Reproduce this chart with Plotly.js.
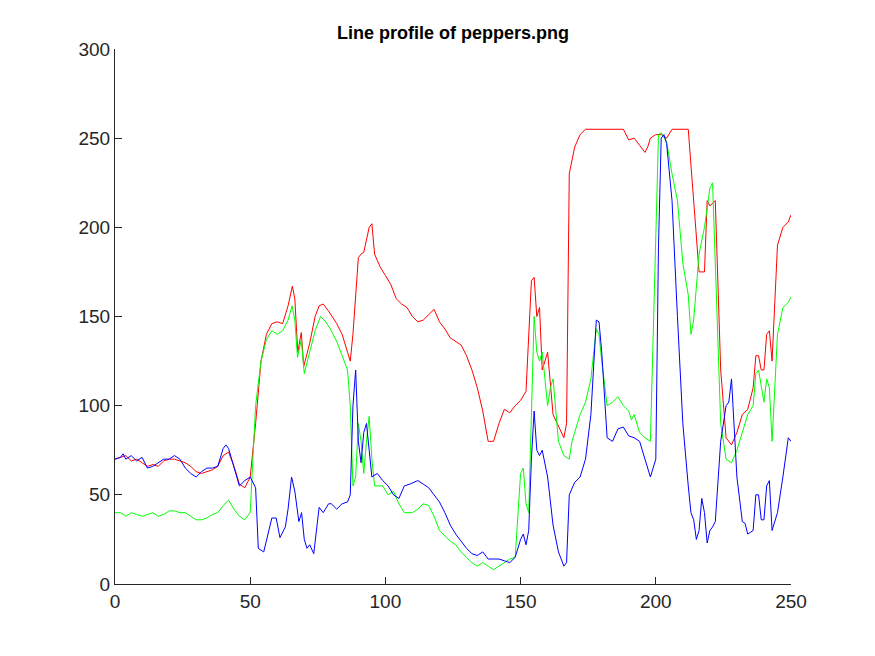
<!DOCTYPE html>
<html>
<head>
<meta charset="utf-8">
<script src="https://cdn.plot.ly/plotly-3.0.1.min.js"></script>
<style>html,body{margin:0;padding:0;background:#fff;}</style>
</head>
<body>
<div id="chart" style="width:875px;height:656px;"></div>
<script>
// Line profile samples [position, intensity]
const redPts = [[0,70],[2,71],[4,72],[6,69],[8,70],[10,68],[12,66],[14,67],[16,66],[18,69],[20,70],[22,70],[24,69],[26,68],[28,66],[30,63],[32,62],[34,63],[36,64],[38,66],[40,72],[42,74],[44,66],[46,56],[48,54],[50,60],[52,90],[54,125],[56,140],[58,146],[60,147],[62,146],[64,156],[65.6,167],[66.5,160],[67.6,130],[68.9,141],[69.8,122],[72,135],[74,150],[75.5,156],[77,157],[79,153],[82,146],[84,140],[86,130],[87,125],[88,140],[90,183],[91,185],[92,186],[94,200],[95,202],[96,185],[98,178],[100,173],[102,168],[104,160],[106,157],[108,155],[110,150],[112,147],[114,148],[116,151],[118,154],[120,147],[122,143],[124,138],[126,136],[128,134],[130,128],[132,120],[134,110],[136,97],[138,80],[140,80],[142,90],[144,98],[146,96],[148,100],[150,103],[152,108],[154,170],[155,172],[156,150],[157,155],[158,120],[160,130],[162,95],[164,88],[166,82],[167,90],[168,230],[170,245],[172,252],[174,255],[188,255],[190,249],[192,250],[194,246],[196,242],[197,245],[198,250],[200,252],[202,252],[204,250],[206,255],[212,255],[214,215],[216,175],[218,175],[219,215],[220,212],[222,215],[224,120],[226,82],[228,78],[230,85],[232,95],[234,98],[236,110],[237,128],[238,128],[239,120],[240,120],[241,140],[242,142],[243,125],[245,190],[247,200],[249,203],[250,207]];
const greenPts = [[0,40],[2,40],[4,38],[6,40],[8,39],[10,38],[12,39],[14,40],[16,38],[18,39],[20,41],[22,41],[24,40],[26,40],[28,38],[30,36],[32,36],[34,37],[36,39],[38,40],[40,44],[42,47],[44,42],[46,38],[48,36],[50,40],[52,100],[54,125],[56,137],[58,142],[60,140],[62,142],[64,148],[65.5,156],[66.5,148],[67.5,127],[68.9,137],[70,118],[72,130],[74,142],[76,150],[78,147],[80,142],[82,136],[84,128],[86,120],[87,100],[88,55],[89,60],[90,90],[91,80],[92,62],[93,80],[94,94],[95,70],[96,55],[99,55],[101,50],[103,52],[105,45],[107,40],[110,40],[112,42],[114,45],[116,44],[118,38],[120,30],[122,27],[124,24],[126,22],[128,18],[130,15],[132,12],[134,10],[136,12],[138,10],[140,8],[142,10],[144,12],[146,14],[148,15],[150,62],[151,65],[152,45],[153,40],[154,100],[155,150],[156,130],[157,125],[158,130],[159,115],[160,100],[161,110],[162,115],[164,80],[166,72],[168,70],[169,80],[170,85],[172,95],[174,102],[176,115],[178,143],[179,140],[180,125],[182,100],[184,102],[186,105],[188,100],[190,97],[191,92],[192,95],[194,85],[196,82],[198,80],[200,200],[201,252],[202,253],[204,248],[206,230],[208,215],[210,180],[212,162],[213,140],[214,148],[216,185],[218,200],[220,222],[221,225],[222,180],[224,90],[226,70],[228,68],[230,75],[232,85],[234,95],[236,100],[237,118],[238,120],[239,110],[240,102],[241,115],[242,110],[243,80],[245,140],[247,155],[249,158],[250,161]];
const bluePts = [[0,70],[2,71],[3,73],[4,70],[6,72],[8,69],[10,71],[12,65],[14,66],[16,68],[18,70],[20,70],[22,72],[24,70],[26,65],[28,62],[30,60],[32,63],[34,65],[36,65],[38,66],[40,76],[41,78],[42,76],[44,66],[46,55],[48,58],[50,60],[52,54],[53,20],[55,18],[57,30],[58,37],[59.6,37],[61,26],[63,32],[64,42],[65.3,60],[66.5,52],[68,35],[69,40],[70,25],[71,20],[72,22],[73.5,17],[75.5,43],[77,40],[79,45],[80,45],[82,42],[84,45],[86,46],[87,50],[88,100],[89,120],[90,80],[91,68],[92,85],[93,90],[94,75],[95,60],[97,62],[99,58],[101,55],[103,50],[105,48],[107,55],[109,56],[112,58],[114,56],[116,54],[118,50],[120,46],[122,40],[124,33],[126,28],[128,24],[130,20],[132,17],[134,16],[136,18],[138,14],[140,14],[142,14],[144,13],[146,12],[148,15],[150,25],[151,28],[152,22],[153,30],[154,70],[155,97],[156,75],[157,72],[158,75],[160,60],[162,33],[164,18],[166,10],[167,12],[168,50],[170,57],[172,60],[174,70],[176,95],[178,148],[179,147],[180,130],[182,82],[184,80],[186,87],[188,88],[190,83],[192,82],[194,80],[196,70],[198,60],[200,70],[201,190],[202,250],[203,252],[204,247],[206,215],[208,150],[210,90],[212,55],[213,40],[214,36],[215,25],[216,30],[217,48],[218,40],[219,23],[220,30],[221,32],[222,35],[224,80],[226,100],[227,102],[228,115],[230,60],[232,35],[233,34],[234,28],[236,30],[237,50],[238,50],[239,36],[240,36],[241,55],[242,58],[243,30],[245,40],[247,60],[249,82],[250,80]];

function trace(pts, color) {
    return {
        x: pts.map(p => p[0]),
        y: pts.map(p => p[1]),
        type: 'scatter',
        mode: 'lines',
        line: { color: color, width: 1 },
        hoverinfo: 'x+y'
    };
}

const axisStyle = {
    showgrid: false,
    zeroline: false,
    showline: true,
    linecolor: '#262626',
    linewidth: 1,
    ticks: 'inside',
    ticklen: 7,
    tickcolor: '#262626',
    tickfont: { family: 'Liberation Sans, Arial, sans-serif', size: 19, color: '#262626' },
    mirror: false
};

Plotly.newPlot('chart', [
    trace(redPts, '#ff0000'),
    trace(greenPts, '#00ff00'),
    trace(bluePts, '#0000ff')
], {
    width: 875,
    height: 656,
    showlegend: false,
    paper_bgcolor: '#fff',
    plot_bgcolor: '#fff',
    margin: { l: 115, r: 84, t: 49, b: 72 },
    title: {
        text: '<b>Line profile of peppers.png</b>',
        font: { family: 'Liberation Sans, Arial, sans-serif', size: 18, color: '#000' },
        x: 0.5, xref: 'paper', y: 0.95, yref: 'container', yanchor: 'middle'
    },
    xaxis: Object.assign({}, axisStyle, { range: [0, 250], tickvals: [0, 50, 100, 150, 200, 250] }),
    yaxis: Object.assign({}, axisStyle, { range: [0, 300], tickvals: [0, 50, 100, 150, 200, 250, 300] })
}, { displayModeBar: false });
</script>
</body>
</html>
